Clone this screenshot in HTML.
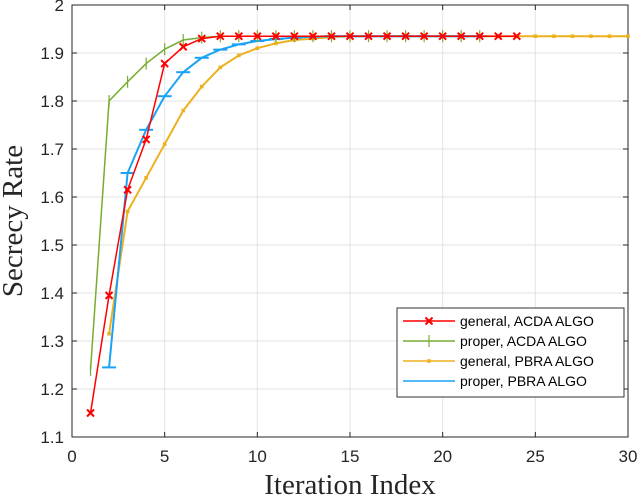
<!DOCTYPE html>
<html><head><meta charset="utf-8"><style>
body{margin:0;background:#fff;width:640px;height:498px;overflow:hidden}
svg{display:block}
text{font-family:"Liberation Sans",sans-serif}
text.serif{font-family:"Liberation Serif",serif}
</style></head><body>
<svg id="chart" width="640" height="498" viewBox="0 0 640 498"></svg>
<script>
const xTicks=[0,5,10,15,20,25,30];
const yTicks=[1.1,1.2,1.3,1.4,1.5,1.6,1.7,1.8,1.9,2];
const redX=[1,2,3,4,5,6,7,8,9,10,11,12,13,14,15,16,17,18,19,20,21,22,23,24];
const redY=[1.15,1.395,1.615,1.72,1.878,1.913,1.93,1.935,1.935,1.935,1.935,1.935,1.935,1.935,1.935,1.935,1.935,1.935,1.935,1.935,1.935,1.935,1.935,1.935];
const greenX=[1,2,3,4,5,6,7,8,9,10,11,12,13,14,15,16,17,18,19,20,21,22];
const greenY=[1.24,1.8,1.84,1.878,1.908,1.927,1.932,1.935,1.935,1.935,1.935,1.935,1.935,1.935,1.935,1.935,1.935,1.935,1.935,1.935,1.935,1.935];
const orangeX=[2,3,4,5,6,7,8,9,10,11,12,13,14,15,16,17,18,19,20,21,22,23,24,25,26,27,28,29,30];
const orangeY=[1.315,1.57,1.64,1.71,1.78,1.83,1.87,1.895,1.91,1.92,1.927,1.93,1.933,1.935,1.935,1.935,1.935,1.935,1.935,1.935,1.935,1.935,1.935,1.935,1.935,1.935,1.935,1.935,1.935];
const blueX=[2,3,4,5,6,7,8,9,10,11,12,13,14,15,16,17,18,19,20,21,22];
const blueY=[1.245,1.65,1.74,1.81,1.86,1.89,1.907,1.918,1.925,1.929,1.932,1.934,1.935,1.935,1.935,1.935,1.935,1.935,1.935,1.935,1.935];
const L=72,R=628,T=5,B=437;
const sx=v=>L+(v-0)/30*(R-L);
const sy=v=>B-(v-1.1)/0.9*(B-T);
const svg=document.getElementById('chart');
const NS='http://www.w3.org/2000/svg';
function mk(tag,attrs,parent){const e=document.createElementNS(NS,tag);for(const k in attrs)e.setAttribute(k,attrs[k]);(parent||svg).appendChild(e);return e;}
const grid=mk('g',{});


xTicks.forEach(t=>{
  mk('line',{x1:sx(t),x2:sx(t),y1:T,y2:B,stroke:'#e3e3e3','stroke-width':1},grid);
  const tx=mk('text',{x:sx(t),y:B+25,'text-anchor':'middle','font-size':17,fill:'#262626'});
  tx.textContent=t;
  
  
  mk('line',{x1:sx(t),x2:sx(t),y1:B,y2:B-5,stroke:'#262626'});
  mk('line',{x1:sx(t),x2:sx(t),y1:T,y2:T+5,stroke:'#262626'});
});
yTicks.forEach(t=>{
  mk('line',{x1:L,x2:R,y1:sy(t),y2:sy(t),stroke:'#e3e3e3','stroke-width':1},grid);
  const tx=mk('text',{x:L-8,y:sy(t)+6,'text-anchor':'end','font-size':17,fill:'#262626'});
  tx.textContent=(t===2?'2':t.toFixed(1));
  
  
  mk('line',{x1:L,x2:L+5,y1:sy(t),y2:sy(t),stroke:'#262626'});
  mk('line',{x1:R,x2:R-5,y1:sy(t),y2:sy(t),stroke:'#262626'});
});
const frame=mk('rect',{x:L,y:T,width:R-L,height:B-T,fill:'none',stroke:'#262626','stroke-width':1});


function marker(type,x,y,c,g){
  if(type==='x'){mk('path',{d:`M${x-3.5},${y-3.5}L${x+3.5},${y+3.5}M${x-3.5},${y+3.5}L${x+3.5},${y-3.5}`,stroke:c,'stroke-width':2},g);}
  else if(type==='v'){mk('line',{x1:x,x2:x,y1:y-6,y2:y+6,stroke:c,'stroke-width':1.2},g);}
  else if(type==='h'){mk('line',{x1:x-7,x2:x+7,y1:y,y2:y,stroke:c,'stroke-width':2},g);}
  else if(type==='d'){mk('rect',{x:x-1.8,y:y-1.8,width:3.6,height:3.6,fill:c},g);}
}
const series=[
 {name:'series-general-pbra',xs:orangeX,ys:orangeY,c:'#EDB120',m:'d',w:2},
 {name:'series-proper-pbra',xs:blueX,ys:blueY,c:'#1AA3F5',m:'h',w:2},
 {name:'series-proper-acda',xs:greenX,ys:greenY,c:'#77AC30',m:'v',w:1.5},
 {name:'series-general-acda',xs:redX,ys:redY,c:'#FF0000',m:'x',w:1.5}
];
series.forEach(s=>{
  const g=mk('g',{});
  
  
  mk('polyline',{points:s.xs.map((x,i)=>sx(x)+','+sy(s.ys[i])).join(' '),fill:'none',stroke:s.c,'stroke-width':s.w},g);
  s.xs.forEach((x,i)=>marker(s.m,sx(x),sy(s.ys[i]),s.c,g));
});
const lg=mk('g',{});


mk('rect',{x:397,y:308,width:227,height:89,fill:'#fff',stroke:'#333','stroke-width':1},lg);
const ent=[['general, ACDA ALGO','#FF0000','x'],['proper, ACDA ALGO','#77AC30','v'],['general, PBRA ALGO','#EDB120','d'],['proper, PBRA ALGO','#1AA3F5','n']];
ent.forEach((e,i)=>{
  const y=321+i*20;
  const eg=mk('g',{},lg);
  
  
  mk('line',{x1:403,x2:455,y1:y,y2:y,stroke:e[1],'stroke-width':1.5},eg);
  if(e[2]!=='n')marker(e[2],429,y,e[1],eg);
  const t=mk('text',{x:460,y:y+5,'font-size':14,fill:'#000'},eg);
  t.textContent=e[0];
});
const xl=mk('text',{x:350,y:494,'text-anchor':'middle','font-size':29,fill:'#262626','class':'serif'});
xl.textContent='Iteration Index';


const yl=mk('text',{x:0,y:0,'text-anchor':'middle','font-size':29,fill:'#262626','class':'serif',transform:'translate(22,221) rotate(-90)'});
yl.textContent='Secrecy Rate';


</script>
</body></html>
